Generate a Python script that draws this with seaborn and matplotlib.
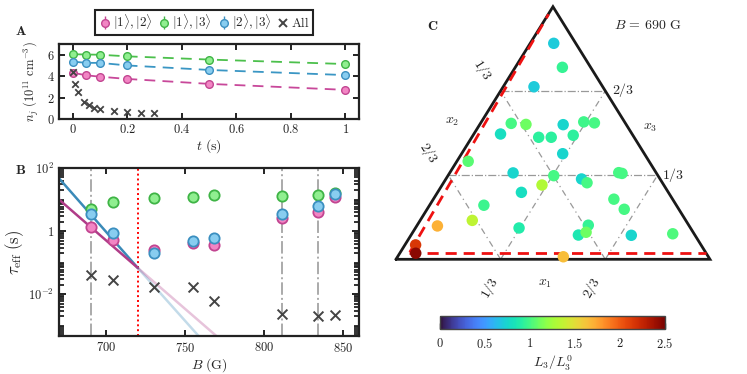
import numpy as np
import pandas as pd
import seaborn as sns
import matplotlib
matplotlib.use("Agg")
import matplotlib.pyplot as plt
from matplotlib.ticker import FixedLocator, FuncFormatter, NullFormatter
from matplotlib.lines import Line2D
from matplotlib.colors import Normalize
from matplotlib.cm import ScalarMappable

# ---------------- data: panel A ----------------
t_pairs = [0, 0.05, 0.1, 0.2, 0.5, 1.0]
n_12 = [4.32, 4.08, 3.95, 3.74, 3.28, 2.72]
n_13 = [6.05, 6.02, 6.0, 5.85, 5.55, 5.13]
n_23 = [5.36, 5.24, 5.24, 5.0, 4.58, 4.1]
err_12 = [0.15, 0.15, 0.15, 0.15, 0.15, 0.15]
err_13 = [0.15, 0.15, 0.15, 0.15, 0.15, 0.15]
err_23 = [0.15, 0.15, 0.15, 0.15, 0.15, 0.15]
t_all = [0, 0.01, 0.02, 0.04, 0.06, 0.08, 0.1, 0.15, 0.2, 0.25, 0.3]
n_all = [4.4, 3.25, 2.5, 1.63, 1.27, 1.05, 0.97, 0.78, 0.68, 0.6, 0.55]

# ---------------- data: panel B ----------------
B_field = [690, 704, 730, 755, 768, 811, 834, 845]
tau_12 = [1.38, 0.52, 0.245, 0.43, 0.35, 2.65, 4.1, 12.0]
tau_13 = [5.0, 8.3, 11.0, 12.0, 14.0, 13.2, 14.0, 16.4]
tau_23 = [3.4, 0.89, 0.2, 0.47, 0.62, 3.4, 6.4, 15.0]
tau_all = [0.040, 0.028, 0.017, 0.017, 0.006, 0.0024, 0.0020, 0.0022]
fit_B_solid = [670, 720]
fit_12_solid = [10.0, 0.067]
fit_23_solid = [47.0, 0.067]
fit_B_faint = [720, 780]
fit_12_faint = [0.067, 1.68e-4]
fit_23_faint = [0.067, 2.9e-5]
B_resonances = [690, 811, 834]
B_cut = [720]

# ---------------- data: panel C (ternary fractions) ----------------
x1 = [0.075, 0.150, 0.098, 0.098, 0.147, 0.085, 0.213, 0.253, 0.266, 0.319,
      0.326, 0.362, 0.322, 0.036, 0.202, 0.337, 0.318, 0.432, 0.457, 0.538,
      0.550, 0.267, 0.173, 0.575, 0.628, 0.066, 0.166, 0.330, 0.545, 0.533,
      0.552, 0.702, 0.831, 0.034, 0.051, 0.528]
x3 = [0.855, 0.760, 0.683, 0.538, 0.534, 0.496, 0.483, 0.483, 0.533, 0.491,
      0.544, 0.540, 0.418, 0.388, 0.342, 0.331, 0.294, 0.318, 0.303, 0.343,
      0.340, 0.265, 0.214, 0.238, 0.198, 0.132, 0.154, 0.124, 0.135, 0.096,
      0.107, 0.095, 0.101, 0.057, 0.024, 0.010]
x2 = [round(1 - a - c, 3) for a, c in zip(x1, x3)]
L3_ratio = [0.70, 0.95, 0.70, 1.00, 1.10, 0.80, 0.92, 0.92, 0.75, 0.92,
            0.98, 1.00, 0.75, 1.05, 0.75, 1.00, 1.30, 0.75, 1.00, 1.00,
            1.00, 0.80, 0.97, 1.00, 1.00, 1.70, 1.35, 0.88, 0.95, 0.85,
            1.10, 0.75, 1.02, 2.15, 2.45, 1.65]
red_left_x1 = [0.030, 0.001]
red_left_x3 = [0.028, 0.970]
red_bot_x1 = [0.030, 0.975]
red_bot_x3 = [0.025, 0.025]
cbar_ticks = [0, 0.5, 1, 1.5, 2, 2.5]

# ---------------- style ----------------
sns.set_theme(style="ticks")
plt.rcParams.update({
    "font.family": ["Liberation Serif", "DejaVu Serif"],
    "mathtext.fontset": "cm",
    "font.size": 9,
    "axes.linewidth": 1.6,
    "axes.edgecolor": "#222222",
    "xtick.direction": "in",
    "ytick.direction": "in",
    "xtick.top": True,
    "ytick.right": True,
    "xtick.major.width": 1.4,
    "ytick.major.width": 1.4,
    "xtick.minor.width": 1.2,
    "ytick.minor.width": 1.2,
    "xtick.major.size": 4,
    "ytick.major.size": 4,
    "ytick.minor.size": 3.5,
    "xtick.color": "#222222",
    "ytick.color": "#222222",
    "xtick.labelsize": 9,
    "ytick.labelsize": 9,
})

pink_f, pink_e, pink_l = "#f285c4", "#c24591", "#c8489a"
green_f, green_e, green_l = "#90ef90", "#3fb446", "#4cc04c"
blue_f, blue_e, blue_l = "#88cdf0", "#3b8fc0", "#3a96c4"
xcol = "#444444"

mfmt = FuncFormatter(lambda v, p: f"${v:g}$")

fig = plt.figure(figsize=(7.47, 3.74), dpi=100)

# ---------------- panel A ----------------
axA = fig.add_axes([0.079, 0.6818, 0.4016, 0.2005])
dfA = pd.DataFrame({"t": t_pairs * 3,
                    "n": n_12 + n_13 + n_23,
                    "pair": ["12"] * 6 + ["13"] * 6 + ["23"] * 6})
sns.lineplot(data=dfA, x="t", y="n", hue="pair",
             palette={"12": pink_l, "13": green_l, "23": blue_l},
             lw=1.3, linestyle=(0, (6, 4)), legend=False, ax=axA, zorder=1)
h12 = axA.errorbar(t_pairs, n_12, yerr=err_12, fmt="o", ms=5.5, mfc=pink_f,
                   mec=pink_e, mew=1.0, ecolor=pink_e, elinewidth=1.0, zorder=3)
h13 = axA.errorbar(t_pairs, n_13, yerr=err_13, fmt="o", ms=5.5, mfc=green_f,
                   mec=green_e, mew=1.0, ecolor=green_e, elinewidth=1.0, zorder=3)
h23 = axA.errorbar(t_pairs, n_23, yerr=err_23, fmt="o", ms=5.5, mfc=blue_f,
                   mec=blue_e, mew=1.0, ecolor=blue_e, elinewidth=1.0, zorder=3)
sns.scatterplot(x=t_all, y=n_all, marker="x", s=22, color=xcol, linewidth=1.3,
                ax=axA, zorder=4)
axA.set_xlim(-0.05, 1.05)
axA.set_ylim(0, 7)
axA.xaxis.set_major_locator(FixedLocator([0, 0.2, 0.4, 0.6, 0.8, 1.0]))
axA.yaxis.set_major_locator(FixedLocator([0, 2, 4, 6]))
axA.xaxis.set_major_formatter(mfmt)
axA.yaxis.set_major_formatter(mfmt)
axA.set_xlabel(r"$t\ (\mathrm{s})$", fontsize=10, labelpad=1)
axA.set_ylabel(r"$n_j\ (10^{11}\ \mathrm{cm}^{-3})$", fontsize=9, labelpad=4)
axA.tick_params(pad=3)
fig.text(0.028, 0.915, r"$\mathbf{A}$", fontsize=10, ha="center", va="center")

hx = Line2D([], [], marker="x", ls="none", color=xcol, ms=6, mew=1.4)
leg = fig.legend([h12, h13, h23, hx],
                 [r"$|1\rangle,|2\rangle$", r"$|1\rangle,|3\rangle$",
                  r"$|2\rangle,|3\rangle$", r"$\mathrm{All}$"],
                 loc="center", bbox_to_anchor=(0.273, 0.94), ncol=4,
                 frameon=True, fancybox=False, framealpha=1, edgecolor="#222222",
                 fontsize=9.5, handletextpad=0.05, columnspacing=0.35,
                 handlelength=1.1, borderpad=0.2, borderaxespad=0)
leg.get_frame().set_linewidth(1.5)

# ---------------- panel B ----------------
axB = fig.add_axes([0.079, 0.1016, 0.4016, 0.4492])
for b in B_resonances:
    axB.axvline(b, color="#aaaaaa", lw=1.4, ls="-.", zorder=0)
for b in B_cut:
    axB.axvline(b, color="red", lw=1.4, ls=(0, (1, 1.5)), zorder=0)
sns.lineplot(x=fit_B_solid, y=fit_23_solid, color="#3a8ab8", lw=1.8, ax=axB, zorder=1)
sns.lineplot(x=fit_B_solid, y=fit_12_solid, color="#b03c88", lw=1.8, ax=axB, zorder=1)
sns.lineplot(x=fit_B_faint, y=fit_23_faint, color="#3a8ab8", alpha=0.3, lw=1.8, ax=axB, zorder=1)
sns.lineplot(x=fit_B_faint, y=fit_12_faint, color="#b03c88", alpha=0.3, lw=1.8, ax=axB, zorder=1)
sns.scatterplot(x=B_field, y=tau_13, s=55, color=green_f, edgecolor=green_e,
                linewidth=1.3, ax=axB, zorder=3)
sns.scatterplot(x=B_field, y=tau_12, s=55, color=pink_f, edgecolor=pink_e,
                linewidth=1.3, ax=axB, zorder=4)
sns.scatterplot(x=B_field, y=tau_23, s=55, color=blue_f, edgecolor=blue_e,
                linewidth=1.3, ax=axB, zorder=5)
sns.scatterplot(x=B_field, y=tau_all, marker="x", s=50, color=xcol, linewidth=1.4,
                ax=axB, zorder=5)
axB.set_yscale("log")
axB.set_xlim(670, 860)
axB.set_ylim(4.7e-4, 100)
axB.xaxis.set_major_locator(FixedLocator([700, 750, 800, 850]))
axB.xaxis.set_major_formatter(mfmt)
axB.yaxis.set_major_locator(FixedLocator([1e-4, 1e-2, 1, 1e2]))
axB.yaxis.set_major_formatter(FuncFormatter(
    lambda v, p: {1e-2: r"$10^{-2}$", 1.0: r"$1$", 1e2: r"$10^{2}$"}.get(v, "")))
minor_ticks = [m * 10.0 ** e for e in range(-4, 2) for m in range(2, 10)] + [1e-3, 1e-1, 10]
axB.yaxis.set_minor_locator(FixedLocator(minor_ticks))
axB.yaxis.set_minor_formatter(NullFormatter())
axB.tick_params(axis="y", which="minor", length=3.5, width=1.3, left=True, right=True,
                color="#222222")
axB.tick_params(axis="y", which="major", length=5)
axB.set_xlabel(r"$B\ (\mathrm{G})$", fontsize=10, labelpad=1)
axB.set_ylabel(r"$\tau_{\mathrm{eff}}\ (\mathrm{s})$", fontsize=12, labelpad=2)
fig.text(0.028, 0.545, r"$\mathbf{B}$", fontsize=10, ha="center", va="center")

# ---------------- panel C (ternary) ----------------
axC = fig.add_axes([0.5301, 0.3067, 0.4203, 0.6754])
axC.set_xlim(0, 1)
axC.set_ylim(0, 1)
axC.set_axis_off()

def cart(b, c):
    b = np.asarray(b, float)
    c = np.asarray(c, float)
    return b + c / 2, c

for f in (1 / 3, 2 / 3):
    axC.plot([f / 2, 1 - f / 2], [f, f], color="#999999", lw=0.9, ls="-.", zorder=1)
    xs, ys = cart([f, f], [0, 1 - f])
    axC.plot(xs, ys, color="#999999", lw=0.9, ls=(0, (5, 3, 1, 3)), zorder=1)
    xs, ys = cart([1 - f, 0], [0, 1 - f])
    axC.plot(xs, ys, color="#999999", lw=0.9, ls=(0, (5, 3, 1, 3)), zorder=1)

axC.plot([0, 1, 0.5, 0], [0, 0, 1, 0], color="k", lw=2.0, clip_on=False,
         solid_joinstyle="miter", zorder=2)

for bx, cx in ((red_left_x1, red_left_x3), (red_bot_x1, red_bot_x3)):
    xs, ys = cart(bx, cx)
    axC.plot(xs, ys, color="#ee1111", lw=2.0, ls=(0, (4, 2.5)), zorder=2, clip_on=False)

px, py = cart(x1, x3)
dfC = pd.DataFrame({"px": px, "py": py, "x2": x2, "L3": L3_ratio})
sns.scatterplot(data=dfC, x="px", y="py", hue="L3", palette="turbo",
                hue_norm=(0, 2.5), s=68, edgecolor="none", legend=False,
                ax=axC, zorder=3, clip_on=False)
axC.set_xlim(0, 1)
axC.set_ylim(0, 1)

tk = dict(fontsize=10, ha="center", va="center")
axC.text(0.276, 0.749, r"$1/3$", rotation=-58, **tk)
axC.text(0.105, 0.421, r"$2/3$", rotation=-58, **tk)
axC.text(0.178, 0.544, r"$x_2$", **tk)
axC.text(0.722, 0.670, r"$2/3$", **tk)
axC.text(0.809, 0.523, r"$x_3$", **tk)
axC.text(0.883, 0.334, r"$1/3$", **tk)
axC.text(0.299, -0.114, r"$1/3$", rotation=60, **tk)
axC.text(0.475, -0.094, r"$x_1$", **tk)
axC.text(0.623, -0.114, r"$2/3$", rotation=60, **tk)
axC.text(0.118, 0.921, r"$\mathbf{C}$", fontsize=10, ha="center", va="center")
axC.text(0.803, 0.925, r"$B\,=\,690\ \mathrm{G}$", fontsize=10, ha="center", va="center")

# colorbar
cbax = fig.add_axes([0.589, 0.1203, 0.3012, 0.0357])
sm = ScalarMappable(norm=Normalize(0, 2.5), cmap="turbo")
cb = fig.colorbar(sm, cax=cbax, orientation="horizontal")
cb.set_ticks(cbar_ticks)
cb.ax.xaxis.set_major_formatter(mfmt)
cb.ax.tick_params(axis="x", direction="in", length=4, width=1.0, color="#222222",
                  top=False, labelsize=9, pad=6)
cb.outline.set_linewidth(1.0)
cb.outline.set_edgecolor("#444444")
cb.set_label(r"$L_3/L_3^0$", fontsize=10, labelpad=2)

fig.savefig("out.png", dpi=100)
